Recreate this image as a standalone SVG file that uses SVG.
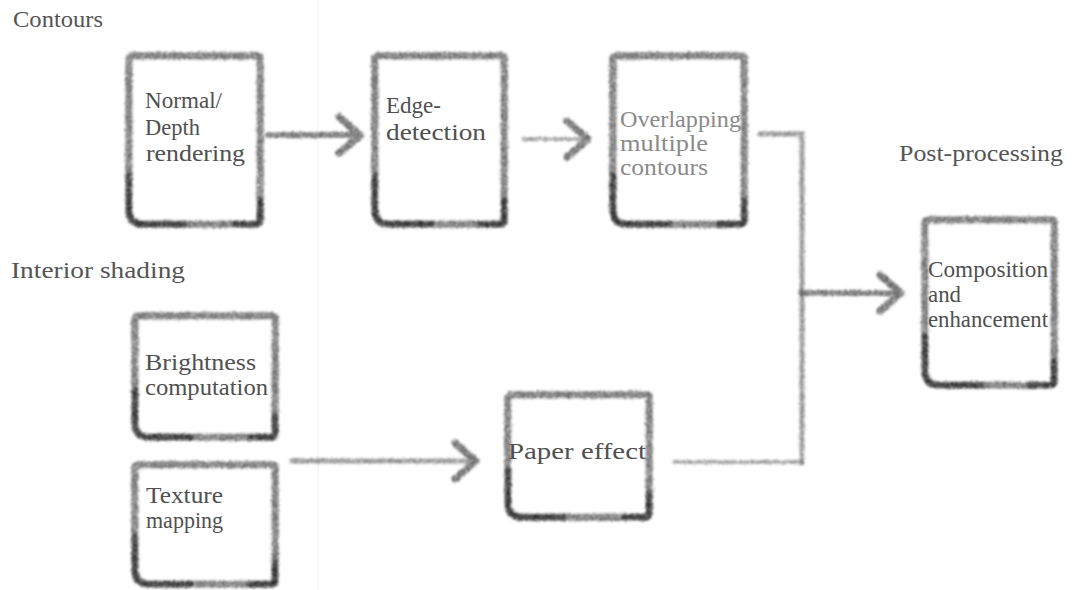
<svg xmlns="http://www.w3.org/2000/svg" width="1075" height="590" viewBox="0 0 1075 590">
  <defs>
    <filter id="pencil" filterUnits="userSpaceOnUse" x="0" y="0" width="1075" height="590">
      <feTurbulence type="fractalNoise" baseFrequency="0.7" numOctaves="2" seed="2" result="n"/>
      <feDisplacementMap in="SourceGraphic" in2="n" scale="4.5" xChannelSelector="R" yChannelSelector="G" result="d"/>
      <feTurbulence type="fractalNoise" baseFrequency="1.3" numOctaves="1" seed="7" result="g"/>
      <feColorMatrix in="g" type="matrix" values="0 0 0 0 0  0 0 0 0 0  0 0 0 0 0  0 0 0 2.2 -0.45" result="ga"/>
      <feComposite in="d" in2="ga" operator="in" result="gr"/>
      <feGaussianBlur in="gr" stdDeviation="0.9"/>
    </filter>
    <marker id="head" markerUnits="userSpaceOnUse" markerWidth="30" markerHeight="44" viewBox="0 0 30 44" refX="25" refY="22" orient="auto">
      <path d="M4,4 L25,22 L4,40" fill="none" stroke="#3a3a3a" stroke-width="7" stroke-linecap="round" stroke-linejoin="round"/>
    </marker>
    <style>
      .box { fill: #fff; stroke: #4a4a4a; stroke-width: 7.5; stroke-linejoin: round; filter: url(#pencil); }
      .acc { fill: none; stroke: #1e1e1e; stroke-width: 5; stroke-linecap: round; filter: url(#pencil); }
      .t { font-family: "Liberation Serif", "DejaVu Serif", serif; font-size: 24px; fill: #505050; }
      .lt { fill: #8a8a8a; }
      .lbl { font-family: "Liberation Serif", "DejaVu Serif", serif; font-size: 24px; fill: #555; }
      .c { fill: none; stroke-linecap: round; filter: url(#pencil); }
      .dark { stroke: #4a4a4a; stroke-width: 6; }
      .mid { stroke: #6e6e6e; stroke-width: 5; }
      .light { stroke: #808080; stroke-width: 4; }
    </style>
  </defs>

  <rect width="1075" height="590" fill="#fff"/>
  <line x1="318" y1="0" x2="318" y2="590" stroke="#f2f2f2" stroke-width="1"/>

  <g id="labels">
    <text class="lbl" x="13" y="27" textLength="90" lengthAdjust="spacingAndGlyphs">Contours</text>
    <text class="lbl" x="899" y="161" textLength="164" lengthAdjust="spacingAndGlyphs">Post-processing</text>
    <text class="lbl" x="11" y="278" textLength="174" lengthAdjust="spacingAndGlyphs">Interior shading</text>
  </g>

  <g id="connectors">
    <path class="c dark" d="M268,135 L360,135" marker-end="url(#head)"/>
    <path class="c light" d="M523,139 L588,139" marker-end="url(#head)"/>
    <path class="c mid" d="M760,134 L802,134 L802,462"/>
    <path class="c dark" d="M802,293 L901,293" marker-end="url(#head)"/>
    <path class="c light" d="M674,462 L802,462"/>
    <path class="c mid" d="M292,461 L476,461" marker-end="url(#head)"/>
  </g>

  <g id="normal-depth">
    <path class="box" d="M129,60 Q129,56 133,56 L257,56 Q260,56 260,59 L260,220 Q260,224 256,224 L143,224 Q129,224 129,210 Z"/>
    <path class="acc" d="M129,175 L129,210 Q129,224 143,224 L185,224 M260,200 L260,220 Q260,224 256,224 L235,224"/>
    <text class="t" x="145" y="108" textLength="77" lengthAdjust="spacingAndGlyphs">Normal/</text>
    <text class="t" x="145" y="135" textLength="55" lengthAdjust="spacingAndGlyphs">Depth</text>
    <text class="t" x="146" y="161" textLength="99" lengthAdjust="spacingAndGlyphs">rendering</text>
  </g>

  <g id="edge-detection">
    <path class="box" d="M375,60 Q375,56 379,56 L501,56 Q504,56 504,59 L504,220 Q504,224 500,224 L389,224 Q375,224 375,210 Z"/>
    <path class="acc" d="M375,175 L375,210 Q375,224 389,224 L431,224 M504,200 L504,220 Q504,224 500,224 L479,224"/>
    <text class="t" x="386" y="113" textLength="55" lengthAdjust="spacingAndGlyphs">Edge-</text>
    <text class="t" x="386" y="140" textLength="100" lengthAdjust="spacingAndGlyphs">detection</text>
  </g>

  <g id="overlapping">
    <path class="box" d="M613,60 Q613,56 617,56 L741,56 Q744,56 744,59 L744,220 Q744,224 740,224 L627,224 Q613,224 613,210 Z"/>
    <path class="acc" d="M613,175 L613,210 Q613,224 627,224 L669,224 M744,200 L744,220 Q744,224 740,224 L719,224"/>
    <text class="t lt" x="620" y="127" textLength="121" lengthAdjust="spacingAndGlyphs">Overlapping</text>
    <text class="t lt" x="620" y="151" textLength="88" lengthAdjust="spacingAndGlyphs">multiple</text>
    <text class="t lt" x="620" y="175" textLength="88" lengthAdjust="spacingAndGlyphs">contours</text>
  </g>

  <g id="composition">
    <path class="box" d="M925,224 Q925,220 929,220 L1051,220 Q1054,220 1054,223 L1054,381 Q1054,385 1050,385 L939,385 Q925,385 925,371 Z"/>
    <path class="acc" d="M925,336 L925,371 Q925,385 939,385 L981,385 M1054,361 L1054,381 Q1054,385 1050,385 L1029,385"/>
    <text class="t" x="928" y="277" textLength="120" lengthAdjust="spacingAndGlyphs">Composition</text>
    <text class="t" x="928" y="302" textLength="33" lengthAdjust="spacingAndGlyphs">and</text>
    <text class="t" x="928" y="327" textLength="120" lengthAdjust="spacingAndGlyphs">enhancement</text>
  </g>

  <g id="brightness">
    <path class="box" d="M135,320 Q135,316 139,316 L272,316 Q275,316 275,319 L275,433 Q275,437 271,437 L149,437 Q135,437 135,423 Z"/>
    <path class="acc" d="M135,390 L135,423 Q135,437 149,437 L191,437 M275,415 L275,433 Q275,437 271,437 L250,437"/>
    <text class="t" x="145" y="370" textLength="111" lengthAdjust="spacingAndGlyphs">Brightness</text>
    <text class="t" x="145" y="395" textLength="123" lengthAdjust="spacingAndGlyphs">computation</text>
  </g>

  <g id="texture">
    <path class="box" d="M135,469 Q135,465 139,465 L272,465 Q275,465 275,468 L275,580 Q275,584 271,584 L149,584 Q135,584 135,570 Z"/>
    <path class="acc" d="M135,537 L135,570 Q135,584 149,584 L191,584 M275,562 L275,580 Q275,584 271,584 L250,584"/>
    <text class="t" x="146" y="503" textLength="77" lengthAdjust="spacingAndGlyphs">Texture</text>
    <text class="t" x="146" y="528" textLength="77" lengthAdjust="spacingAndGlyphs">mapping</text>
  </g>

  <g id="paper-effect">
    <path class="box" d="M508,399 Q508,395 512,395 L646,395 Q649,395 649,398 L649,513 Q649,517 645,517 L522,517 Q508,517 508,503 Z"/>
    <path class="acc" d="M508,470 L508,503 Q508,517 522,517 L564,517 M649,495 L649,513 Q649,517 645,517 L624,517"/>
    <text class="t" x="508" y="459" textLength="138" lengthAdjust="spacingAndGlyphs">Paper effect</text>
  </g>
</svg>
